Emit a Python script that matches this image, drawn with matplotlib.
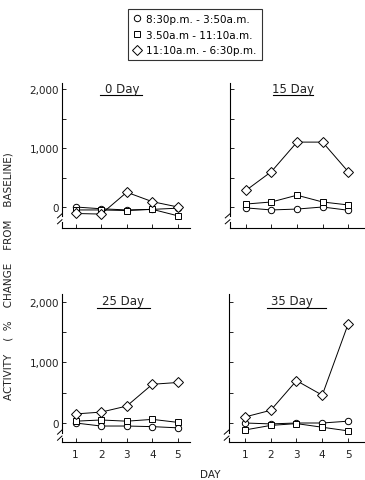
import numpy as np
import matplotlib
matplotlib.use("Agg")
import matplotlib.pyplot as plt
from matplotlib.lines import Line2D

plt.rcParams["font.family"] = "DejaVu Sans"

# days of measurement
days = [1, 2, 3, 4, 5]

# % change from baseline
# (circle: 8:30pm-3:50am, square: 3:50am-11:10am, diamond: 11:10am-6:30pm)
day0_circle = [0, -30, -50, -40, -20]
day0_square = [-50, -50, -60, -40, -150]
day0_diamond = [-110, -120, 250, 90, 0]

day15_circle = [-15, -50, -35, 0, -55]
day15_square = [50, 85, 200, 85, 35]
day15_diamond = [280, 600, 1100, 1100, 600]

day25_circle = [0, -50, -50, -60, -80]
day25_square = [30, 50, 30, 60, 10]
day25_diamond = [150, 180, 280, 640, 670]

day35_circle = [0, -15, 0, 0, 30]
day35_square = [-115, -40, -10, -70, -130]
day35_diamond = [100, 210, 700, 460, 1630]

panel_titles = ["0 Day", "15 Day", "25 Day", "35 Day"]
legend_labels = ["8:30p.m. - 3:50a.m.", "3.50a.m - 11:10a.m.", "11:10a.m. - 6:30p.m."]

W, H = 365, 481
fig = plt.figure(figsize=(W / 100, H / 100), dpi=100)


def rect(x0, x1, ytop, ybot):
    return [x0 / W, 1 - ybot / H, (x1 - x0) / W, (ybot - ytop) / H]


panels = [
    dict(rect=rect(62, 190, 84, 229), ylim=(-356, 2102), xlim=(0.47, 5.47),
         data=(day0_circle, day0_square, day0_diamond), ylab=True, xlab=False,
         title=(0.47, 0.965, 0.30, 0.625, 0.915)),
    dict(rect=rect(230, 365, 84, 229), ylim=(-356, 2102), xlim=(0.38, 5.66),
         data=(day15_circle, day15_square, day15_diamond), ylab=False, xlab=False,
         title=(0.467, 0.965, 0.32, 0.615, 0.915)),
    dict(rect=rect(62, 190, 295, 443), ylim=(-314, 2132), xlim=(0.47, 5.47),
         data=(day25_circle, day25_square, day25_diamond), ylab=True, xlab=True,
         title=(0.477, 0.955, 0.273, 0.69, 0.905)),
    dict(rect=rect(229, 365, 295, 443), ylim=(-314, 2132), xlim=(0.38, 5.66),
         data=(day35_circle, day35_square, day35_diamond), ylab=False, xlab=True,
         title=(0.463, 0.955, 0.28, 0.713, 0.905)),
]

markers = ["o", "s", "D"]
msizes = [4.6, 4.4, 4.6]
lw = 0.7

for p, name in zip(panels, panel_titles):
    ax = fig.add_axes(p["rect"])
    for vals, m, ms in zip(p["data"], markers, msizes):
        ax.plot(days, vals, color="black", lw=lw, marker=m, ms=ms,
                mfc="white", mec="black", mew=0.7, clip_on=False, zorder=3)
    ax.set_xlim(*p["xlim"])
    ax.set_ylim(*p["ylim"])

    for s in ["top", "right"]:
        ax.spines[s].set_visible(False)
    ax.spines["bottom"].set_linewidth(0.8)
    # broken y axis: upper part, gap with break marks, lower stub
    ax.spines["left"].set_bounds(-160, p["ylim"][1])
    ax.spines["left"].set_linewidth(0.8)
    y0 = p["ylim"][0]
    ax.plot([p["xlim"][0]] * 2, [y0, -250], color="black", lw=0.8, clip_on=False)
    trans = ax.get_yaxis_transform()
    for yb in (-150, -250):
        ax.plot([-0.035, 0.0], [yb - 35, yb + 35], color="black", lw=0.7,
                transform=trans, clip_on=False)

    ax.set_yticks([0, 500, 1000, 1500, 2000])
    ax.set_xticks(days)
    ax.tick_params(direction="in", length=3, width=0.7, labelsize=7.5,
                   colors="#222222", pad=2)
    if p["ylab"]:
        ax.set_yticklabels(["0", "", "1,000", "", "2,000"])
    else:
        ax.set_yticklabels([])
    if p["xlab"]:
        ax.set_xticklabels([str(d) for d in days])
        ax.tick_params(axis="x", pad=5)
    else:
        ax.set_xticklabels([])

    tx, ty, ux0, ux1, uy = p["title"]
    ax.text(tx, ty, name, transform=ax.transAxes, ha="center", va="center",
            fontsize=8.5, color="#222222")
    ax.plot([ux0, ux1], [uy, uy], transform=ax.transAxes, color="black",
            lw=0.8, clip_on=False)

handles = [Line2D([], [], ls="none", marker=m, ms=ms, mfc="white", mec="black", mew=0.7)
           for m, ms in zip(markers, msizes)]
leg = fig.legend(handles, legend_labels, loc="upper left",
                 bbox_to_anchor=(123 / W, 1 - 5 / H), fontsize=7.5, frameon=True,
                 fancybox=False, edgecolor="black", handlelength=0.8,
                 handletextpad=0.5, borderpad=0.45, labelspacing=0.55)
leg.get_frame().set_linewidth(0.8)

fig.text(9 / W, 1 - 276 / H, "ACTIVITY    (  %    CHANGE    FROM    BASELINE)",
         rotation=90, ha="center", va="center", fontsize=7.5, color="#222222")
fig.text(210 / W, 1 - 475 / H, "DAY", ha="center", va="center",
         fontsize=7.5, color="#222222")

fig.savefig("out.png", dpi=100)
